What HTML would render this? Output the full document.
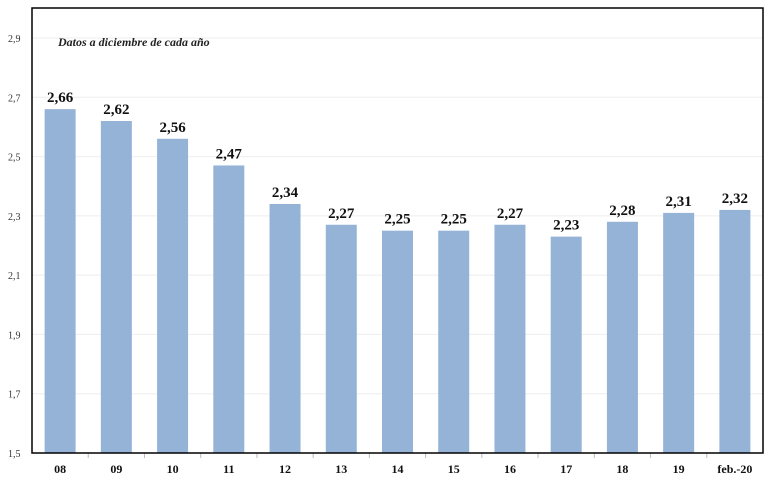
<!DOCTYPE html>
<html><head><meta charset="utf-8"><style>
body{margin:0;background:#fff;width:770px;height:486px;overflow:hidden}
svg text{font-family:"Liberation Serif",serif}
</style></head><body>
<svg width="770" height="486">
<g id="grid"></g>
<g id="bars"></g>
<g id="labels"></g>
<g id="axis"></g>
<rect x="32" y="8" width="731" height="445" fill="none" stroke="#000" stroke-width="1.5"/>
<text x="58" y="46" font-size="12" font-weight="bold" font-style="italic" fill="#222">Datos  a diciembre de cada año</text>
</svg>
<script>
const categories=["08","09","10","11","12","13","14","15","16","17","18","19","feb.-20"];
const values=[2.66,2.62,2.56,2.47,2.34,2.27,2.25,2.25,2.27,2.23,2.28,2.31,2.32];
const valueLabels=["2,66","2,62","2,56","2,47","2,34","2,27","2,25","2,25","2,27","2,23","2,28","2,31","2,32"];
const yTicks=[1.5,1.7,1.9,2.1,2.3,2.5,2.7,2.9];
const yTickLabels=["1,5","1,7","1,9","2,1","2,3","2,5","2,7","2,9"];
const NS="http://www.w3.org/2000/svg";
const x0=32,x1=763,yMin=1.5,yMax=2.9,py0=453,py1=38;
const y=v=>py0-(v-yMin)/(yMax-yMin)*(py0-py1);
const step=(x1-x0)/categories.length;
const xc=i=>x0+step*(i+0.5);
const bw=31;
function mk(t,a,p){const e=document.createElementNS(NS,t);for(const k in a)e.setAttribute(k,a[k]);document.getElementById(p).appendChild(e);return e;}
yTicks.forEach((v,i)=>{
 const l=mk("line",{x1:x0,x2:x1,y1:y(v),y2:y(v),stroke:"#eee","stroke-width":1},"grid");
 
 
 const t=mk("text",{x:8,y:y(v)+4,"font-size":10,fill:"#333"},"axis");
 t.textContent=yTickLabels[i];
 
 
});
categories.forEach((c,i)=>{
 const r=mk("rect",{x:xc(i)-bw/2,y:y(values[i]),width:bw,height:py0-y(values[i]),fill:"#95b3d7"},"bars");
 
 
 const t=mk("text",{x:xc(i),y:y(values[i])-7,"font-size":15,"font-weight":"bold","text-anchor":"middle",fill:"#111"},"labels");
 t.textContent=valueLabels[i];
 
 
 const k=mk("text",{x:xc(i),y:473,"font-size":12,"font-weight":"bold","text-anchor":"middle",fill:"#111"},"axis");
 k.textContent=c;
 
 
 if(i>0){const tk=mk("line",{x1:x0+step*i,x2:x0+step*i,y1:453,y2:458,stroke:"#bbb"},"axis");
 
 }
});
</script>
</body></html>
